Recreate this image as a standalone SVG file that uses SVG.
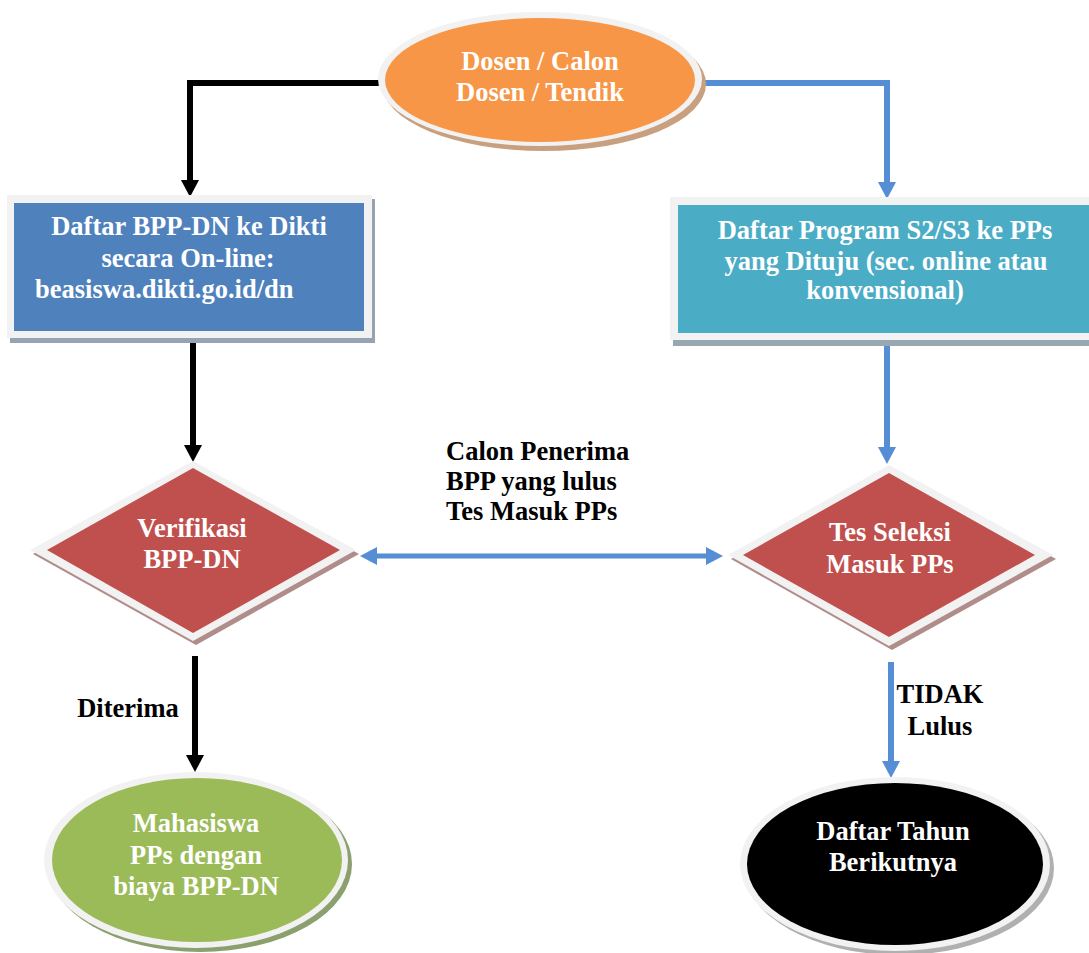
<svg xmlns="http://www.w3.org/2000/svg" width="1089" height="953" viewBox="0 0 1089 953">
<style>
.t{font-family:"Liberation Serif","Times New Roman",serif;font-weight:bold;font-size:26.5px;fill:#ffffff;text-anchor:middle}
.lbl{font-family:"Liberation Serif","Times New Roman",serif;font-weight:bold;font-size:26.5px;fill:#000000}
.ring{fill:#f2f2f2}
.blk{fill:none;stroke:#000000;stroke-width:6}
.blu{fill:none;stroke:#558ed5;stroke-width:6}
</style>
<defs>
<marker id="ab" markerUnits="userSpaceOnUse" markerWidth="18" markerHeight="18" refX="1" refY="9" orient="auto"><path d="M0,0 L17,9 L0,18 z" fill="#000000"/></marker>
<marker id="au" markerUnits="userSpaceOnUse" markerWidth="18" markerHeight="18" refX="1" refY="9" orient="auto-start-reverse"><path d="M0,0 L17,9 L0,18 z" fill="#558ed5"/></marker>
</defs>
<rect width="1089" height="953" fill="#ffffff"/>
<g id="connectors">
<path class="blk" d="M380,83 H190 V181" marker-end="url(#ab)"/>
<path class="blu" d="M700,83 H887 V183" marker-end="url(#au)"/>
<path class="blk" d="M193,343 V446" marker-end="url(#ab)"/>
<path class="blu" d="M887,346 V448" marker-end="url(#au)"/>
<path class="blu" style="stroke-width:5" d="M376,556 H707" marker-start="url(#au)" marker-end="url(#au)"/>
<path class="blk" d="M195,656 V756" marker-end="url(#ab)"/>
<path class="blu" d="M891,662 V762" marker-end="url(#au)"/>
<text class="lbl" x="446" y="460">Calon Penerima</text>
<text class="lbl" x="446" y="490">BPP yang lulus</text>
<text class="lbl" x="446" y="520">Tes Masuk PPs</text>
<text class="lbl" x="128" y="717" text-anchor="middle">Diterima</text>
<text class="lbl" x="940" y="703" text-anchor="middle">TIDAK</text>
<text class="lbl" x="940" y="735" text-anchor="middle">Lulus</text>
</g>
<g id="n-dosen">
<ellipse cx="544" cy="84" rx="162" ry="67" fill="#c8a07f"/>
<ellipse class="ring" cx="540" cy="79" rx="162" ry="67"/>
<ellipse cx="540" cy="80" rx="155" ry="62" fill="#f79646"/>
<text class="t" x="540" y="70">Dosen / Calon</text>
<text class="t" x="540" y="101">Dosen / Tendik</text>
</g>
<g id="n-daftar-bpp">
<rect x="10" y="199" width="365" height="144" fill="#97a3b2"/>
<rect class="ring" x="7" y="195" width="365" height="143"/>
<rect x="14" y="203" width="350" height="128" fill="#4f81bd"/>
<text class="t" x="189" y="235">Daftar BPP-DN ke Dikti</text>
<text class="t" x="188" y="267">secara On-line:</text>
<text class="t" x="35" y="298" style="text-anchor:start">beasiswa.dikti.go.id/dn</text>
</g>
<g id="n-daftar-pps">
<rect x="673" y="201" width="420" height="145" fill="#97a8b2"/>
<rect class="ring" x="670" y="197" width="420" height="143"/>
<rect x="678" y="205" width="414" height="128" fill="#4bacc6"/>
<text class="t" x="885" y="239">Daftar Program S2/S3 ke PPs</text>
<text class="t" x="886" y="270">yang Dituju (sec. online atau</text>
<text class="t" x="885" y="299">konvensional)</text>
</g>
<g id="n-verifikasi">
<polygon points="196,465 359,554 196,645 33,554" fill="#b08c8a"/>
<polygon class="ring" points="193,461 356,550 193,641 30,550"/>
<polygon points="193,468 340,550 193,633 47,550" fill="#c0504d"/>
<text class="t" x="192" y="537">Verifikasi</text>
<text class="t" x="192" y="568">BPP-DN</text>
</g>
<g id="n-tes">
<polygon points="892,469 1056,559 892,650 731,559" fill="#b08c8a"/>
<polygon class="ring" points="889,465 1053,555 889,646 728,555"/>
<polygon points="889,473 1035,555 889,637 743,555" fill="#c0504d"/>
<text class="t" x="890" y="541">Tes Seleksi</text>
<text class="t" x="890" y="573">Masuk PPs</text>
</g>
<g id="n-mahasiswa">
<ellipse cx="200" cy="864" rx="152" ry="88" fill="#8c9f6f"/>
<ellipse class="ring" cx="196" cy="860" rx="152" ry="88"/>
<ellipse cx="197" cy="860" rx="145" ry="82" fill="#9bbb59"/>
<text class="t" x="196" y="832">Mahasiswa</text>
<text class="t" x="196" y="864">PPs dengan</text>
<text class="t" x="196" y="895">biaya BPP-DN</text>
</g>
<g id="n-tahun">
<ellipse cx="899" cy="868" rx="155" ry="87" fill="#b0b0b0"/>
<ellipse class="ring" cx="895" cy="864" rx="155" ry="87"/>
<ellipse cx="895" cy="864" rx="148" ry="81" fill="#000000"/>
<text class="t" x="893" y="840">Daftar Tahun</text>
<text class="t" x="893" y="871">Berikutnya</text>
</g>
</svg>
